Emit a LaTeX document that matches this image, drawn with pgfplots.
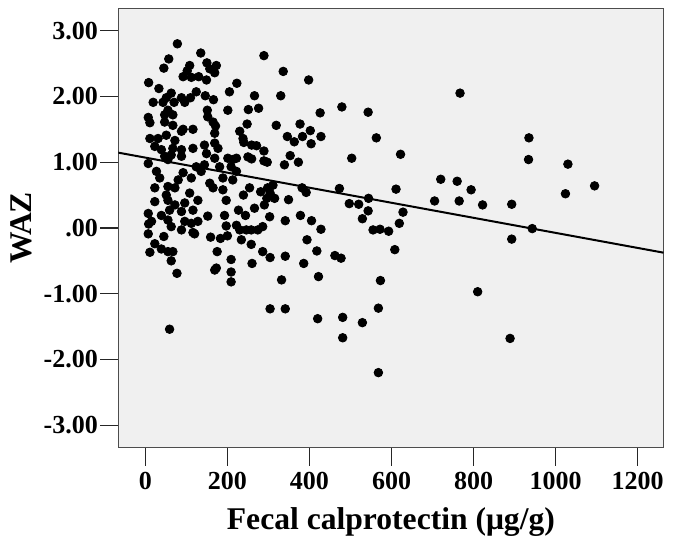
\documentclass[border=0pt]{standalone}
\usepackage{fontspec}
\setmainfont{Liberation Serif}
\usepackage{pgfplots}
\usepackage{pgfplotstable}
\pgfplotsset{compat=1.18}
\definecolor{bgpanel}{RGB}{240,240,240}
\pgfplotstableread{
x y
78 2.80
135 2.66
57 2.57
45 2.43
108 2.47
150 2.51
173 2.47
157 2.42
102 2.39
92 2.30
112 2.29
130 2.30
149 2.25
169 2.36
8 2.21
33 2.12
63 2.05
124 2.07
146 2.01
166 1.95
205 2.07
19 1.91
51 1.98
43 1.91
70 1.91
88 1.98
96 1.91
110 1.98
55 1.79
67 1.72
47 1.72
151 1.79
152 1.69
201 1.79
7 1.68
11 1.60
47 1.61
67 1.56
165 1.61
171 1.55
116 1.50
92 1.50
289 2.62
336 2.38
398 2.25
223 2.20
266 2.01
330 2.01
251 1.80
276 1.82
426 1.75
248 1.58
319 1.56
377 1.58
402 1.48
230 1.47
346 1.39
383 1.39
428 1.39
363 1.31
404 1.28
238 1.36
240 1.30
259 1.26
271 1.25
289 1.17
250 1.08
259 1.05
289 1.02
297 1.00
353 1.10
339 0.96
373 1.00
201 1.06
213 1.04
222 1.06
209 0.93
11 1.36
31 1.36
51 1.41
72 1.33
88 1.47
169 1.44
23 1.24
39 1.19
67 1.21
88 1.19
116 1.21
144 1.26
169 1.29
177 1.21
47 1.09
63 1.11
88 1.09
149 1.13
169 1.06
7 0.98
55 1.04
124 0.93
144 0.96
181 0.93
27 0.86
92 0.84
136 0.86
189 0.76
35 0.76
80 0.73
112 0.76
157 0.68
23 0.61
55 0.63
72 0.61
165 0.61
108 0.53
189 0.58
51 0.50
23 0.40
55 0.42
72 0.35
96 0.38
128 0.42
197 0.42
7 0.22
39 0.19
59 0.27
88 0.25
116 0.27
152 0.18
193 0.19
15 0.10
55 0.12
96 0.10
128 0.10
8 0.06
63 0.02
88 -0.03
112 0.07
116 -0.07
120 -0.09
197 0.03
7 -0.09
45 -0.13
159 -0.14
183 -0.16
200 -0.12
23 -0.24
39 -0.32
11 -0.37
55 -0.36
67 -0.36
175 -0.36
63 -0.50
209 -0.48
169 -0.64
173 -0.61
209 -0.67
77 -0.69
209 -0.82
59 -1.54
311 0.65
281 0.55
298 0.61
254 0.61
239 0.50
304 0.53
296 0.45
290 0.35
315 0.45
349 0.43
266 0.30
227 0.27
244 0.19
222 0.04
230 -0.03
246 -0.03
258 -0.03
274 -0.03
286 0.02
303 0.17
341 0.11
378 0.19
405 0.11
428 -0.02
394 -0.18
418 -0.35
341 -0.43
304 -0.45
286 -0.36
260 -0.54
386 -0.54
332 -0.79
422 -0.74
304 -1.23
341 -1.23
420 -1.38
258 -0.25
234 -0.18
222 0.86
213 0.73
767 2.05
479 1.84
543 1.76
563 1.37
503 1.06
622 1.12
720 0.74
760 0.71
794 0.58
382 0.61
392 0.54
473 0.60
611 0.59
544 0.45
705 0.41
765 0.41
497 0.37
520 0.36
543 0.26
529 0.14
628 0.24
619 0.07
822 0.35
555 -0.03
572 -0.02
593 -0.05
462 -0.42
477 -0.46
608 -0.33
573 -0.80
810 -0.97
568 -1.22
481 -1.36
529 -1.44
481 -1.67
568 -2.20
935 1.37
934 1.04
1030 0.97
1095 0.64
1024 0.52
893 0.36
943 -0.01
893 -0.17
889 -1.68
}\waz
\begin{document}
\begin{tikzpicture}
\begin{axis}[
  name=ax,
  scale only axis,
  width=272.6pt, height=219.65pt,
  xmin=-66, xmax=1263, ymin=-3.34, ymax=3.34,
  axis background/.style={fill=bgpanel},
  xtick={0,200,400,600,800,1000,1200},
  xticklabels={0,200,400,600,800,1000,1200},
  ytick={-3,-2,-1,0,1,2,3},
  yticklabels={-3.00,-2.00,-1.00,.00,1.00,2.00,3.00},
  tick align=outside, tick pos=left,
  major tick length=9pt,
  axis line style={black!70, line width=0.6pt},
  tick style={black!85, line width=0.6pt},
  ticklabel style={font=\bfseries\fontsize{13}{15}\selectfont},
  yticklabel style={inner xsep=1pt},
  xlabel={Fecal calprotectin (μg/g)},
  ylabel={WAZ},
  label style={font=\bfseries\fontsize{15.8}{18}\selectfont},
  xlabel style={at={(axis description cs:0.5,0)}, anchor=base, yshift=-41.2pt},
  ylabel style={at={(axis description cs:0,0.5)}, anchor=center, rotate=0, yshift=48.3pt},
  clip=true,
]
\addplot [only marks, mark=*, mark size=2.15pt, black] table [x=x, y=y] {\waz};
\addplot [black, line width=1pt] coordinates {(-66,1.145) (1263,-0.376)};
\end{axis}
\pgfresetboundingbox
\path ([xshift=-59.15pt,yshift=-48.2pt]ax.south west) rectangle ([xshift=5.75pt,yshift=4.15pt]ax.north east);
\end{tikzpicture}
\end{document}
